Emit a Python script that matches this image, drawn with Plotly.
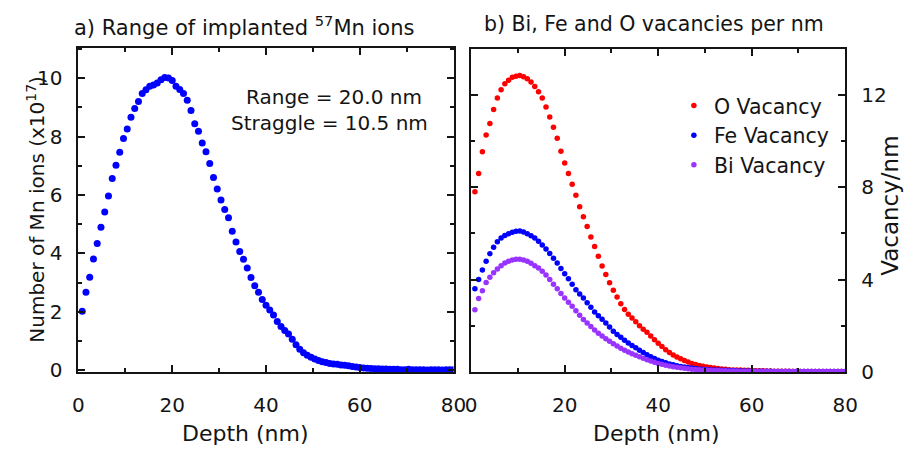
import plotly.graph_objects as go

# Depth bins (nm), 0.8 nm wide
DEPTH_NM = [
    0.8, 1.6, 2.4, 3.2, 4.0, 4.8, 5.6, 6.4, 7.2, 8.0,
    8.8, 9.6, 10.4, 11.2, 12.0, 12.8, 13.6, 14.4, 15.2, 16.0,
    16.8, 17.6, 18.4, 19.2, 20.0, 20.8, 21.6, 22.4, 23.2, 24.0,
    24.8, 25.6, 26.4, 27.2, 28.0, 28.8, 29.6, 30.4, 31.2, 32.0,
    32.8, 33.6, 34.4, 35.2, 36.0, 36.8, 37.6, 38.4, 39.2, 40.0,
    40.8, 41.6, 42.4, 43.2, 44.0, 44.8, 45.6, 46.4, 47.2, 48.0,
    48.8, 49.6, 50.4, 51.2, 52.0, 52.8, 53.6, 54.4, 55.2, 56.0,
    56.8, 57.6, 58.4, 59.2, 60.0, 60.8, 61.6, 62.4, 63.2, 64.0,
    64.8, 65.6, 66.4, 67.2, 68.0, 68.8, 69.6, 70.4, 71.2, 72.0,
    72.8, 73.6, 74.4, 75.2, 76.0, 76.8, 77.6, 78.4, 79.2, 80.0,
]

# a) implanted 57Mn ions per bin (x10^17)
MN_IONS = [
    2.02, 2.67, 3.18, 3.81, 4.34, 4.89, 5.42, 5.96, 6.56, 7.02,
    7.46, 7.93, 8.26, 8.66, 8.96, 9.20, 9.47, 9.60, 9.72, 9.76,
    9.83, 9.94, 10.02, 10.00, 9.92, 9.72, 9.61, 9.47, 9.24, 8.89,
    8.44, 8.18, 7.78, 7.48, 7.08, 6.60, 6.20, 5.83, 5.50, 5.22,
    4.76, 4.39, 4.06, 3.80, 3.50, 3.17, 2.89, 2.67, 2.42, 2.22,
    2.06, 1.89, 1.67, 1.50, 1.36, 1.24, 1.06, 0.87, 0.72, 0.60,
    0.51, 0.44, 0.38, 0.33, 0.29, 0.26, 0.23, 0.21, 0.20, 0.18,
    0.17, 0.15, 0.13, 0.11, 0.09, 0.08, 0.07, 0.06, 0.05, 0.05,
    0.04, 0.04, 0.03, 0.03, 0.03, 0.02, 0.02, 0.03, 0.02, 0.02,
    0.02, 0.02, 0.01, 0.02, 0.02, 0.02, 0.01, 0.02, 0.02, 0.02,
]

# b) vacancies per nm
O_VAC = [
    7.81, 8.59, 9.54, 10.26, 10.76, 11.37, 11.87, 12.22, 12.48, 12.63,
    12.76, 12.81, 12.84, 12.78, 12.70, 12.56, 12.36, 12.14, 11.86, 11.47,
    11.04, 10.60, 10.12, 9.56, 9.05, 8.59, 8.13, 7.65, 7.16, 6.72,
    6.30, 5.85, 5.43, 5.01, 4.59, 4.22, 3.86, 3.54, 3.25, 2.95,
    2.70, 2.50, 2.34, 2.17, 2.00, 1.85, 1.72, 1.56, 1.40, 1.24,
    1.10, 0.96, 0.84, 0.74, 0.65, 0.57, 0.50, 0.43, 0.37, 0.32,
    0.28, 0.25, 0.22, 0.19, 0.17, 0.15, 0.13, 0.12, 0.10, 0.09,
    0.08, 0.08, 0.07, 0.07, 0.06, 0.05, 0.05, 0.05, 0.04, 0.04,
    0.03, 0.03, 0.03, 0.03, 0.03, 0.02, 0.03, 0.02, 0.02, 0.02,
    0.02, 0.02, 0.02, 0.02, 0.02, 0.02, 0.02, 0.02, 0.02, 0.02,
]

FE_VAC = [
    3.60, 4.00, 4.42, 4.80, 5.12, 5.40, 5.64, 5.80, 5.91, 5.99,
    6.05, 6.09, 6.10, 6.06, 5.99, 5.90, 5.80, 5.66, 5.50, 5.33,
    5.13, 4.93, 4.72, 4.48, 4.25, 4.04, 3.80, 3.56, 3.38, 3.20,
    3.00, 2.80, 2.60, 2.43, 2.28, 2.12, 1.95, 1.76, 1.62, 1.50,
    1.37, 1.26, 1.15, 1.05, 0.94, 0.84, 0.75, 0.66, 0.58, 0.51,
    0.45, 0.40, 0.35, 0.31, 0.27, 0.24, 0.21, 0.19, 0.17, 0.15,
    0.13, 0.12, 0.11, 0.10, 0.09, 0.08, 0.07, 0.07, 0.06, 0.06,
    0.05, 0.05, 0.04, 0.04, 0.04, 0.03, 0.03, 0.03, 0.03, 0.03,
    0.02, 0.02, 0.02, 0.02, 0.02, 0.02, 0.02, 0.02, 0.02, 0.02,
    0.02, 0.02, 0.02, 0.02, 0.02, 0.02, 0.02, 0.02, 0.02, 0.02,
]

BI_VAC = [
    2.69, 3.18, 3.52, 3.87, 4.10, 4.30, 4.46, 4.60, 4.72, 4.80,
    4.85, 4.88, 4.88, 4.85, 4.79, 4.71, 4.60, 4.50, 4.36, 4.20,
    4.00, 3.80, 3.60, 3.40, 3.20, 3.02, 2.85, 2.65, 2.46, 2.27,
    2.12, 1.97, 1.82, 1.68, 1.56, 1.44, 1.33, 1.22, 1.12, 1.03,
    0.94, 0.86, 0.79, 0.72, 0.66, 0.59, 0.53, 0.47, 0.42, 0.37,
    0.33, 0.29, 0.26, 0.23, 0.20, 0.18, 0.16, 0.14, 0.12, 0.11,
    0.10, 0.09, 0.08, 0.07, 0.06, 0.06, 0.05, 0.05, 0.04, 0.04,
    0.04, 0.03, 0.03, 0.03, 0.03, 0.02, 0.02, 0.02, 0.02, 0.02,
    0.02, 0.02, 0.02, 0.02, 0.02, 0.02, 0.02, 0.02, 0.02, 0.02,
    0.02, 0.02, 0.02, 0.02, 0.02, 0.02, 0.02, 0.02, 0.02, 0.02,
]

FONT = "DejaVu Sans"
INK = "#141414"
W, H = 918, 457

fig = go.Figure()

fig.add_trace(go.Scatter(
    x=DEPTH_NM, y=MN_IONS, mode="markers", name="Mn ions",
    marker=dict(color="#0000ff", size=7), xaxis="x", yaxis="y",
    showlegend=False,
))
fig.add_trace(go.Scatter(
    x=DEPTH_NM, y=O_VAC, mode="markers", name="O Vacancy",
    marker=dict(color="#ff0000", size=5.5), xaxis="x2", yaxis="y2",
))
fig.add_trace(go.Scatter(
    x=DEPTH_NM, y=FE_VAC, mode="markers", name="Fe Vacancy",
    marker=dict(color="#0000ff", size=5.5), xaxis="x2", yaxis="y2",
))
fig.add_trace(go.Scatter(
    x=DEPTH_NM, y=BI_VAC, mode="markers", name="Bi Vacancy",
    marker=dict(color="#9933ff", size=5.5), xaxis="x2", yaxis="y2",
))

common = dict(
    showgrid=False, zeroline=False, showline=True, linecolor=INK, linewidth=1.8,
    ticks="inside", ticklen=7, tickwidth=1.6, tickcolor=INK, mirror="ticks",
    tickfont=dict(family=FONT, size=20, color=INK),
)
minor_common = dict(ticks="inside", ticklen=4, tickwidth=1.6, tickcolor=INK)


def px_x(p):
    return p / W


def px_y(p):
    return 1 - p / H


fig.update_layout(
    width=W, height=H,
    margin=dict(l=0, r=0, t=0, b=0),
    paper_bgcolor="white", plot_bgcolor="white",
    font=dict(family=FONT, color=INK),
    xaxis=dict(domain=[px_x(74), px_x(457)], range=[0, 80], anchor="y",
               dtick=20, minor=dict(dtick=10, **minor_common),
               ticklabelstandoff=14, **common),
    yaxis=dict(domain=[px_y(382), px_y(49)], range=[-0.06, 11.04], anchor="x",
               dtick=2, minor=dict(dtick=1, **minor_common),
               ticklabelstandoff=10, **common),
    xaxis2=dict(domain=[px_x(475), px_x(857)], range=[0, 80], anchor="y2",
                dtick=20, minor=dict(dtick=10, **minor_common),
                ticklabelstandoff=14, **common),
    yaxis2=dict(domain=[px_y(382), px_y(50)], range=[0, 14.0], anchor="x2",
                side="right", dtick=4, minor=dict(dtick=2, **minor_common),
                ticklabelstandoff=10, **common),
    legend=dict(x=px_x(682), y=px_y(88), xanchor="left", yanchor="top",
                bgcolor="rgba(0,0,0,0)", font=dict(family=FONT, size=20.5, color=INK),
                itemsizing="trace", tracegroupgap=0),
)

annotations = [
    dict(text="a) Range of implanted <sup>57</sup>Mn ions", x=px_x(243), y=px_y(27),
         font=dict(size=21)),
    dict(text="b) Bi, Fe and O vacancies per nm", x=px_x(662), y=px_y(25),
         font=dict(size=20.5)),
    dict(text="Range = 20.0 nm", x=px_x(335), y=px_y(100), font=dict(size=20)),
    dict(text="Straggle = 10.5 nm", x=px_x(330), y=px_y(126), font=dict(size=20)),
    dict(text="Depth (nm)", x=px_x(245), y=px_y(445), font=dict(size=22)),
    dict(text="Depth (nm)", x=px_x(664), y=px_y(445), font=dict(size=22)),
    dict(text="Number of Mn ions (x10<sup>17</sup>)", x=px_x(31), y=px_y(215),
         textangle=-90, font=dict(size=20)),
    dict(text="Vacancy/nm", x=px_x(903), y=px_y(211), textangle=-90,
         font=dict(size=23)),
]
for a in annotations:
    a.update(xref="paper", yref="paper", showarrow=False,
             xanchor="center", yanchor="middle")
    a["font"].update(family=FONT, color=INK)
fig.update_layout(annotations=annotations)

fig.write_html("out.html")
